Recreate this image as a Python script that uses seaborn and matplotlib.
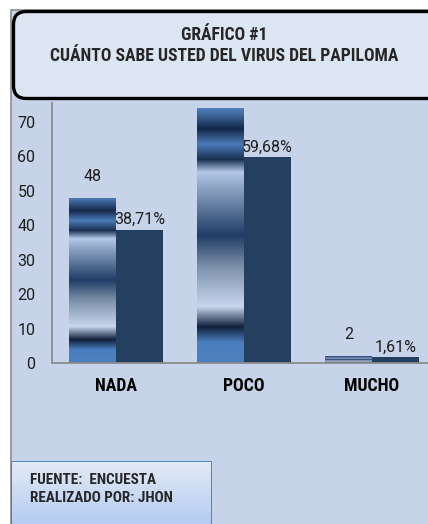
import numpy as np
import pandas as pd
import matplotlib
matplotlib.use("Agg")
import matplotlib.pyplot as plt
import seaborn as sns
from matplotlib import font_manager as fm
from matplotlib.colors import LinearSegmentedColormap
from matplotlib.patches import FancyBboxPatch, Rectangle

# Data
categorias = ["NADA", "POCO", "MUCHO"]
cantidad = [48, 74, 2]
porcentaje = [38.71, 59.68, 1.61]
series = ["Cantidad", "Porcentaje"]

df = pd.DataFrame({
    "categoria": categorias * 2,
    "serie": [series[0]] * 3 + [series[1]] * 3,
    "valor": cantidad + porcentaje,
})

sns.set_style("white")
plt.rcParams["font.family"] = ["Roboto", "DejaVu Sans"]

# pick a narrow bold face for the headings if one is installed
names = {f.name for f in fm.fontManager.ttflist}
narrow_family, narrow_stretch = "Liberation Sans", "normal"
for cand in ["Liberation Sans Narrow", "Arial Narrow", "Roboto Condensed",
             "Open Sans Condensed", "Noto Sans Condensed", "DejaVu Sans Condensed"]:
    if cand in names:
        narrow_family = cand
        break
else:
    for f in fm.fontManager.ttflist:
        if f.name in ("DejaVu Sans", "Noto Sans", "Open Sans") and "condensed" in str(f.stretch):
            narrow_family, narrow_stretch = f.name, "condensed"
            break
narrow = [narrow_family, "DejaVu Sans"]

W, H = 428, 524
fig = plt.figure(figsize=(W / 100, H / 100), dpi=100)
fig.patch.set_facecolor("white")
renderer = fig.canvas.get_renderer()


def fit(t, width_px):
    # scale font size so the text spans the width seen in the reference
    t.set_fontsize(10)
    w = t.get_window_extent(renderer).width
    t.set_fontsize(10 * width_px / w)


# background (chart area) in pixel coords
bg = fig.add_axes([0, 0, 1, 1], zorder=0)
bg.set_xlim(0, W)
bg.set_ylim(H, 0)
bg.axis("off")
bg.add_patch(Rectangle((11, 10), W + 60, H + 60, facecolor="#c6d3e8",
                       edgecolor="#8c8c8c", lw=1.2))

# main plot area
ax = fig.add_axes([52 / W, 161 / H, 384 / W, 260 / H], zorder=1)
ax.patch.set_alpha(0)
sns.barplot(data=df, x="categoria", y="valor", hue="serie", hue_order=series,
            order=categorias, palette=["#4f81bd", "#243f60"], width=0.73, gap=0,
            linewidth=0, saturation=1, legend=False, ax=ax)

# metallic gradient on the count bars
stops = [(0.0, "#4f81bd"), (0.08, "#14284a"), (0.14, "#4a7ab8"), (0.20, "#1a3050"),
         (0.25, "#b4c8e8"), (0.31, "#8ea4c4"), (0.50, "#1f3d66"), (0.62, "#7b8ea8"),
         (0.78, "#c8d6ee"), (0.86, "#10203a"), (0.92, "#4a7ebf"), (1.0, "#4f81bd")]
cmap = LinearSegmentedColormap.from_list("metal", stops)
grad = np.linspace(0, 1, 256).reshape(-1, 1)
for p in ax.containers[0]:
    x, w, h = p.get_x(), p.get_width(), p.get_height()
    im = ax.imshow(grad, cmap=cmap, extent=[x, x + w, 0, h], aspect="auto",
                   origin="upper", zorder=p.get_zorder() + 0.1)
    im.set_clip_path(p)
ax.set_xlim(-0.5, 2.5)
ax.set_ylim(0, 75.5)

ax.bar_label(ax.containers[0], labels=[str(v) for v in cantidad], padding=10,
             fontsize=11.5, color="#1e1e1e")
ax.bar_label(ax.containers[1], labels=[f"{v:.2f}".replace(".", ",") + "%" for v in porcentaje],
             padding=2, fontsize=11.5, color="#1e1e1e")

ax.set_yticks(range(0, 80, 10))
ax.set_xlabel("")
ax.set_ylabel("")
ax.tick_params(axis="y", length=0, pad=12, labelsize=11.5, labelcolor="#1e1e1e")
ax.tick_params(axis="x", length=0, pad=10)
xlabs = ax.get_xticklabels()
for lab in xlabs:
    lab.set_fontfamily(narrow)
    lab.set_fontstretch(narrow_stretch)
    lab.set_fontweight("bold")
    lab.set_color("black")
fit(xlabs[2], 55)
for lab in xlabs[:2]:
    lab.set_fontsize(xlabs[2].get_fontsize())
for s in ["top", "right"]:
    ax.spines[s].set_visible(False)
for s in ["left", "bottom"]:
    ax.spines[s].set_color("#8c8c8c")
    ax.spines[s].set_linewidth(1.3)

# overlay: title box and source box
fg = fig.add_axes([0, 0, 1, 1], zorder=3)
fg.set_xlim(0, W)
fg.set_ylim(H, 0)
fg.axis("off")
fg.patch.set_alpha(0)
fg.add_patch(FancyBboxPatch((13.5, 11.5), 520, 87, boxstyle="round,pad=0,rounding_size=13",
                            facecolor="#dce6f2", edgecolor="black", lw=2.4))
t1 = fg.text(224, 35, "GRÁFICO #1", ha="center", va="center", fontweight="bold",
             family=narrow, fontstretch=narrow_stretch)
t2 = fg.text(224, 56, "CUÁNTO SABE USTED DEL VIRUS DEL PAPILOMA", ha="center",
             va="center", fontweight="bold", family=narrow, fontstretch=narrow_stretch)
fit(t2, 348)
t1.set_fontsize(t2.get_fontsize())

foot = Rectangle((12.5, 462), 198.5, 120, facecolor="none", edgecolor="#4a7ab8", lw=1.3)
fg.add_patch(foot)
fcmap = LinearSegmentedColormap.from_list("foot", ["#e2eaf7", "#a7c3ef"])
im = fg.imshow(grad, cmap=fcmap, extent=[12.5, 211, 542, 462], aspect="auto",
               origin="upper", zorder=1)
im.set_clip_path(foot)
fg.set_xlim(0, W)
fg.set_ylim(H, 0)
f1 = fg.text(30, 480, "FUENTE:  ENCUESTA", ha="left", va="center", fontweight="bold",
             family=narrow, fontstretch=narrow_stretch, zorder=3)
f2 = fg.text(30, 498, "REALIZADO POR: JHON", ha="left", va="center", fontweight="bold",
             family=narrow, fontstretch=narrow_stretch, zorder=3)
fit(f2, 143)
f1.set_fontsize(f2.get_fontsize())

fig.savefig("out.png", dpi=100)
